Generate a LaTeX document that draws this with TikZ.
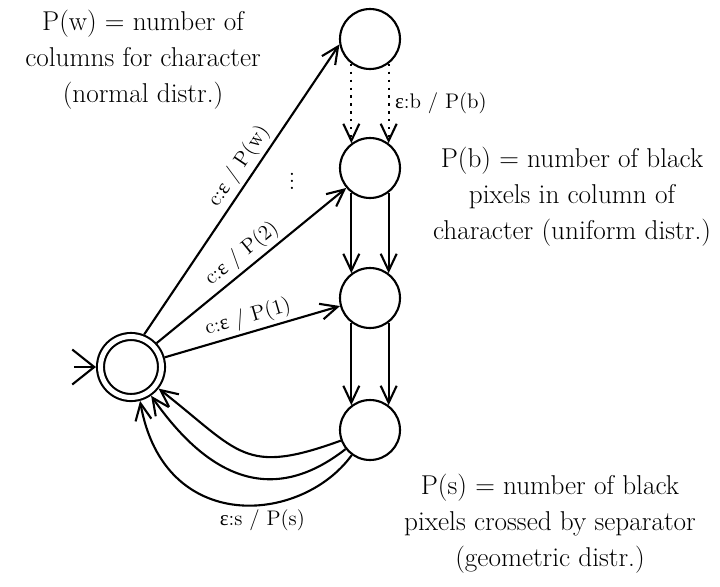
\documentclass[tikz,border=0pt]{standalone}
\usepackage{amsmath,amssymb}
\usepackage{fontspec}
\usepackage{tikz}
\usetikzlibrary{arrows.meta,positioning}
\newfontfamily\grkfont{Liberation Serif}
\newcommand{\epsup}{{\grkfont ε}}

\begin{document}
\begin{tikzpicture}[x=0.02cm,y=-0.02cm,line width=1.2pt,every node/.style={align=center},state/.style={draw,circle,minimum size=1.2cm,inner sep=0pt},startstate/.style={draw,circle,double,double distance=2.8pt,minimum size=1.22cm,inner sep=0pt,outer sep=2.6pt},arr/.style={-{Straight Barb[length=3.4mm,width=3.2mm]}},dotline/.style={dash pattern=on 1.3pt off 3.2pt},note/.style={font=\fontsize{15.5}{20.5}\selectfont},lbl/.style={font=\fontsize{12}{14}\selectfont,inner sep=2pt}]
\useasboundingbox (0,0) rectangle (720,586);
\node[startstate] (init) at (131,367) {};
\node[state] (s1) at (370,39) {};
\node[state] (s2) at (370,168) {};
\node[state] (s3) at (370,298) {};
\node[state] (s4) at (370,430) {};
\coordinate[left=4.4mm of init.west] (entry);
\draw[-{Straight Barb[length=4.4mm,width=7mm]}] (entry)--(init.west);
\draw[arr] (init.68)--node[lbl,sloped,above,pos=0.55] {c:\epsup{} / P(w)} (s1.190);
\draw[arr] (init.43)--node[lbl,sloped,above] {c:\epsup{} / P(2)} (s2.220);
\draw[arr] (init.16)--node[lbl,sloped,above] {c:\epsup{} / P(1)} (s3.195);
\node[note] (vdots) at (292,176) {$\vdots$};
\draw[arr,dotline] (s1.233)--(s2.127);
\draw[arr,dotline] (s1.307)--node[lbl,right=1pt] {\epsup:b / P(b)} (s2.53);
\draw[arr] (s2.233)--(s3.127);
\draw[arr] (s2.307)--(s3.53);
\draw[arr] (s3.233)--(s4.127);
\draw[arr] (s3.307)--(s4.53);
\draw[arr] (s4.200) to[out=200,in=-38,looseness=1.4] (init.-38);
\draw[arr] (s4.218) to[out=218,in=-55,out looseness=1.3,in looseness=1.1] (init.-55);
\draw[arr] (s4.234) to[out=234,in=-80,out looseness=1.0,in looseness=1.6] node[lbl,below,pos=0.4] {\epsup:s / P(s)} (init.-75);
\node[note] (wnote) at (143,60) {P(w) = number of\\columns for character\\(normal distr.)};
\node[note] (bnote) at (572,197) {P(b) = number of black\\pixels in column of\\character (uniform distr.)};
\node[note] (snote) at (550,524) {P(s) = number of black\\pixels crossed by separator\\(geometric distr.)};
\end{tikzpicture}
\end{document}
